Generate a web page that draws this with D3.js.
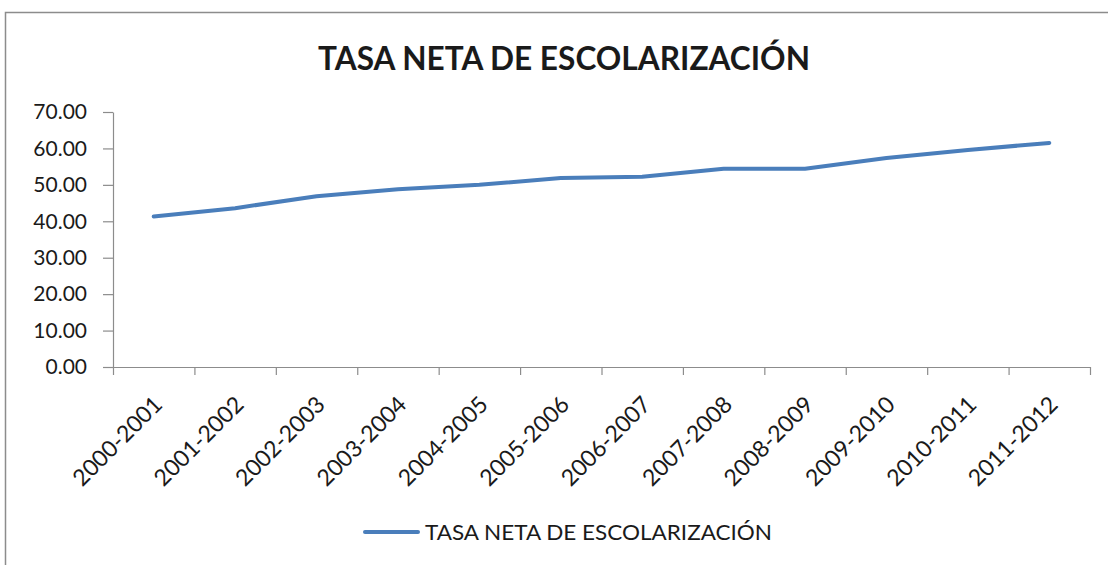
<!DOCTYPE html>
<html>
<head>
<meta charset="utf-8">
<script src="https://cdn.jsdelivr.net/npm/d3@7"></script>
<style>
  html, body { margin: 0; padding: 0; background: #fff; }
  svg { display: block; }
  text { font-family: Lato, "Liberation Sans", sans-serif; fill: #1a1a1a; }
</style>
</head>
<body>
<svg id="chart" width="1108" height="565"></svg>
<script>
// data
const titleText = 'TASA NETA DE ESCOLARIZACIÓN';
const seriesName = 'TASA NETA DE ESCOLARIZACIÓN';
const categories = ['2000-2001', '2001-2002', '2002-2003', '2003-2004', '2004-2005', '2005-2006',
  '2006-2007', '2007-2008', '2008-2009', '2009-2010', '2010-2011', '2011-2012'];
const values = [41.3, 43.6, 46.9, 48.8, 50.0, 51.9, 52.2, 54.4, 54.4, 57.4, 59.6, 61.5];
const yTicks = [0, 10, 20, 30, 40, 50, 60, 70];

const lineColor = '#4a7ebb';
const axisColor = '#8c8c8c';

const svg = d3.select('#chart');
const plot = { left: 113, right: 1090, top: 112, bottom: 367 };

// outer chart border (runs off the right/bottom edges)
svg.append('rect')
  .attr('x', 5.5).attr('y', 12.5)
  .attr('width', 1200).attr('height', 700)
  .attr('fill', 'none')
  .attr('stroke', axisColor)
  .attr('stroke-width', 1.5);

svg.append('text')
  .attr('x', 564).attr('y', 70)
  .attr('text-anchor', 'middle')
  .attr('font-weight', 'bold')
  .attr('font-size', 32)
  .attr('textLength', 492)
  .attr('lengthAdjust', 'spacingAndGlyphs')
  .text(titleText);

const x = d3.scaleBand().domain(categories).range([plot.left, plot.right]);
const xEdge = d3.scaleLinear().domain([0, categories.length]).range([plot.left, plot.right]);
const y = d3.scaleLinear().domain([0, 70]).range([plot.bottom, plot.top]);

// y axis
const yAxis = svg.append('g').attr('transform', `translate(${plot.left},0)`)
  .call(d3.axisLeft(y).tickValues(yTicks).tickFormat(d3.format('.2f'))
    .tickSize(10).tickSizeOuter(0).tickPadding(16));
yAxis.selectAll('line, path').attr('stroke', axisColor).attr('stroke-width', 1.2);
yAxis.selectAll('text').attr('font-size', 21).attr('font-family', 'Lato, sans-serif').attr('fill', '#1a1a1a');

// x axis: tick marks between categories
const xAxis = svg.append('g').attr('transform', `translate(0,${plot.bottom})`)
  .call(d3.axisBottom(xEdge).tickValues(d3.range(categories.length + 1))
    .tickFormat('').tickSize(8).tickSizeOuter(0));
xAxis.selectAll('line, path').attr('stroke', axisColor).attr('stroke-width', 1.2);

// rotated category labels
const xLabels = svg.append('g').attr('transform', `translate(0,${plot.bottom})`)
  .call(d3.axisBottom(x).tickSize(0).tickFormat((d) => d));
xLabels.select('path').remove();
xLabels.selectAll('.tick text')
  .attr('font-size', 23)
  .attr('font-family', 'Lato, sans-serif')
  .attr('fill', '#1a1a1a')
  .attr('text-anchor', 'end')
  .attr('y', 0).attr('dy', 0)
  .attr('transform', 'translate(10,39) rotate(-45)');

// series line
const line = d3.line()
  .x((d, i) => x(categories[i]) + x.bandwidth() / 2)
  .y((d) => y(d));

svg.append('path')
  .datum(values)
  .attr('d', line)
  .attr('fill', 'none')
  .attr('stroke', lineColor)
  .attr('stroke-width', 4)
  .attr('stroke-linejoin', 'round')
  .attr('stroke-linecap', 'round');

// legend
const legend = svg.append('g').attr('transform', 'translate(365,532)');
legend.append('line')
  .attr('x1', 0).attr('x2', 53)
  .attr('stroke', lineColor).attr('stroke-width', 4)
  .attr('stroke-linecap', 'round');
legend.append('text')
  .attr('x', 60).attr('y', 0).attr('dy', '0.36em')
  .attr('font-size', 22)
  .attr('textLength', 347)
  .attr('lengthAdjust', 'spacingAndGlyphs')
  .text(seriesName);
</script>
</body>
</html>
